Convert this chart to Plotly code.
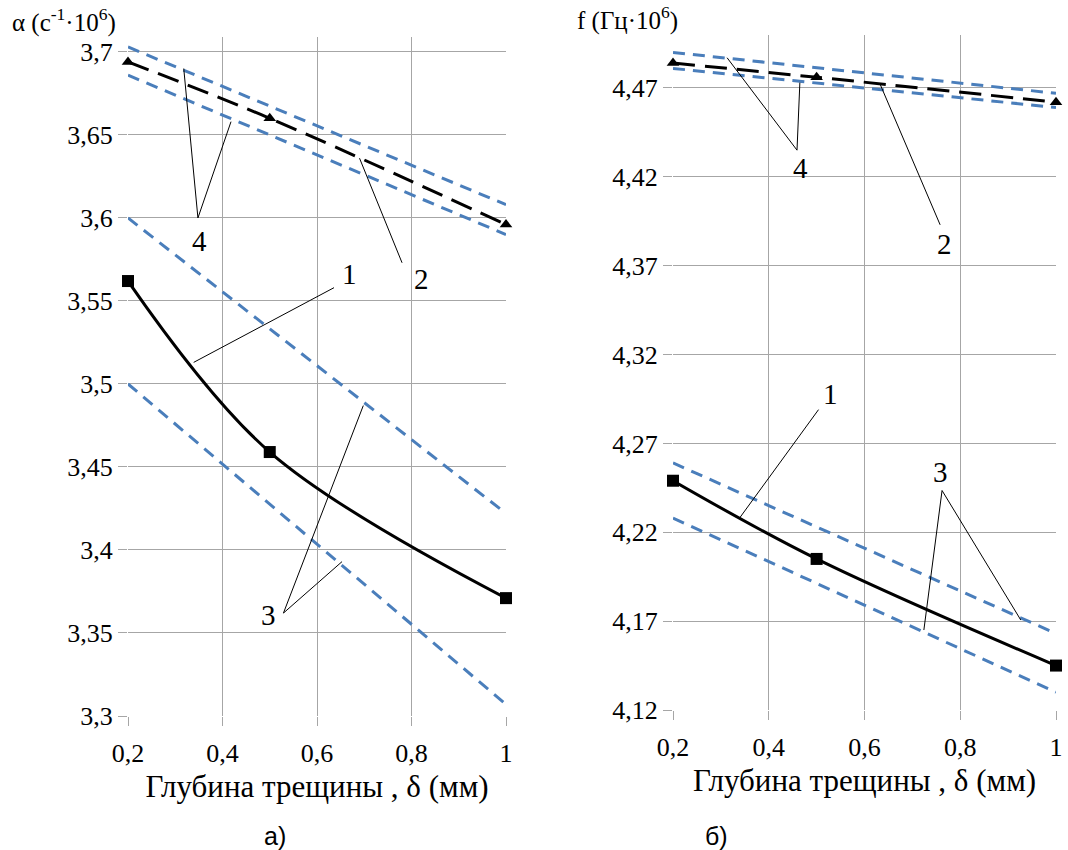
import plotly.graph_objects as go

# ---------------- data ----------------
x_pts = [0.2, 0.5, 1.0]
x_ends = [0.2, 1.0]

# panel a) alpha
alpha_1 = [3.562, 3.459, 3.371]
alpha_2 = [3.694, 3.660, 3.596]
alpha_3_up = [3.600, 3.422]
alpha_3_lo = [3.500, 3.307]
alpha_4_up = [3.703, 3.608]
alpha_4_lo = [3.686, 3.590]

# panel б) f
f_1 = [4.249, 4.205, 4.145]
f_2 = [4.484, 4.476, 4.462]
f_3_up = [4.259, 4.163]
f_3_lo = [4.228, 4.130]
f_4_up = [4.490, 4.467]
f_4_lo = [4.481, 4.459]

x_ticks = [0.2, 0.4, 0.6, 0.8, 1.0]
x_ticktext = ["0,2", "0,4", "0,6", "0,8", "1"]
a_ticks = [3.3, 3.35, 3.4, 3.45, 3.5, 3.55, 3.6, 3.65, 3.7]
a_ticktext = ["3,3", "3,35", "3,4", "3,45", "3,5", "3,55", "3,6", "3,65", "3,7"]
f_ticks = [4.12, 4.17, 4.22, 4.27, 4.32, 4.37, 4.42, 4.47]
f_ticktext = ["4,12", "4,17", "4,22", "4,27", "4,32", "4,37", "4,42", "4,47"]

# curve labels: (text, x, y) and leader lines ((x0,y0),(x1,y1))
a_labels = [("4", 0.352, 3.586), ("2", 0.822, 3.563), ("1", 0.668, 3.566), ("3", 0.497, 3.361)]
a_leaders = [((0.348, 3.600), (0.318, 3.690)),
             ((0.348, 3.600), (0.418, 3.658)),
             ((0.780, 3.573), (0.690, 3.636)),
             ((0.636, 3.558), (0.339, 3.513)),
             ((0.529, 3.362), (0.698, 3.487)),
             ((0.529, 3.362), (0.653, 3.393))]
f_labels = [("4", 0.466, 4.425), ("2", 0.768, 4.382), ("1", 0.528, 4.298), ("3", 0.758, 4.254)]
f_leaders = [((0.459, 4.435), (0.313, 4.487)),
             ((0.459, 4.435), (0.465, 4.473)),
             ((0.758, 4.393), (0.632, 4.4725)),
             ((0.504, 4.289), (0.339, 4.228)),
             ((0.762, 4.2435), (0.724, 4.165)),
             ((0.762, 4.2435), (0.9265, 4.1706))]

BLUE = "#4a7ebb"
SERIF = "Liberation Serif"
SANS = "Liberation Sans"

fig = go.Figure()

def add_panel(xa, ya, c1, c2, c3u, c3l, c4u, c4l):
    for yy in (c3u, c3l, c4u, c4l):
        fig.add_trace(go.Scatter(x=x_ends, y=yy, mode="lines", xaxis=xa, yaxis=ya,
                                 line=dict(color=BLUE, width=3, dash="12px,8px"),
                                 showlegend=False, hoverinfo="skip"))
    fig.add_trace(go.Scatter(x=x_pts, y=c2, mode="lines+markers", xaxis=xa, yaxis=ya,
                             line=dict(color="black", width=3, dash="22px,10px", shape="spline"),
                             marker=dict(symbol="triangle-up", size=11, color="black"),
                             showlegend=False, cliponaxis=False))
    fig.add_trace(go.Scatter(x=x_pts, y=c1, mode="lines+markers", xaxis=xa, yaxis=ya,
                             line=dict(color="black", width=3, shape="spline"),
                             marker=dict(symbol="square", size=12, color="black"),
                             showlegend=False, cliponaxis=False))

add_panel("x", "y", alpha_1, alpha_2, alpha_3_up, alpha_3_lo, alpha_4_up, alpha_4_lo)
add_panel("x2", "y2", f_1, f_2, f_3_up, f_3_lo, f_4_up, f_4_lo)

shapes = []
annotations = []
for (xr, yr, labels, leaders) in (("x", "y", a_labels, a_leaders), ("x2", "y2", f_labels, f_leaders)):
    for (p0, p1) in leaders:
        shapes.append(dict(type="line", xref=xr, yref=yr, x0=p0[0], y0=p0[1], x1=p1[0], y1=p1[1],
                           line=dict(color="black", width=1)))
    for (t, xx, yy) in labels:
        annotations.append(dict(text=t, x=xx, y=yy, xref=xr, yref=yr, showarrow=False,
                                font=dict(family=SERIF, size=29, color="black")))

annotations += [
    dict(text="α (с<sup>-1</sup>·10<sup>6</sup>)", x=10 / 1068, y=1 - 20 / 850, xref="paper", yref="paper",
         xanchor="left", yanchor="middle", showarrow=False, font=dict(family=SERIF, size=25, color="black")),
    dict(text="f (Гц·10<sup>6</sup>)", x=575 / 1068, y=1 - 19 / 850, xref="paper", yref="paper",
         xanchor="left", yanchor="middle", showarrow=False, font=dict(family=SERIF, size=25, color="black")),
    dict(text="а)", x=262 / 1068, y=1 - 836 / 850, xref="paper", yref="paper", yanchor="middle",
         showarrow=False, font=dict(family=SANS, size=25, color="black")),
    dict(text="б)", x=730 / 1068, y=1 - 836 / 850, xref="paper", yref="paper", yanchor="middle",
         showarrow=False, font=dict(family=SANS, size=25, color="black")),
]

axis_common = dict(showgrid=True, gridcolor="#a6a6a6", gridwidth=1, showline=False,
                   zeroline=False, ticks="outside", ticklen=9, tickcolor="#a6a6a6",
                   automargin=False,
                   tickfont=dict(family=SERIF, size=26, color="black"))
xtitle = dict(text="Глубина трещины , δ (мм)", font=dict(family=SERIF, size=31, color="black"), standoff=8)

fig.update_layout(
    template="none",
    width=1068, height=850, margin=dict(l=0, r=0, t=0, b=0),
    paper_bgcolor="white", plot_bgcolor="white",
    font=dict(family=SERIF, color="black"),
    xaxis=dict(domain=[128 / 1068, 506 / 1068], range=[0.2, 1.0], tickvals=x_ticks, ticktext=x_ticktext,
               anchor="y", title=xtitle, ticklabelstandoff=5, **axis_common),
    yaxis=dict(domain=[1 - 716 / 850, 1 - 37 / 850], range=[3.3, 3.709], tickvals=a_ticks, ticktext=a_ticktext,
               anchor="x", **axis_common),
    xaxis2=dict(domain=[673 / 1068, 1056 / 1068], range=[0.2, 1.0], tickvals=x_ticks, ticktext=x_ticktext,
                anchor="y2", title=xtitle, ticklabelstandoff=5, **axis_common),
    yaxis2=dict(domain=[1 - 710 / 850, 1 - 35 / 850], range=[4.12, 4.4998], tickvals=f_ticks, ticktext=f_ticktext,
                anchor="x2", **axis_common),
    shapes=shapes, annotations=annotations,
)

fig.write_html("out.html", config={"displayModeBar": False},
               post_script="document.body.style.margin='0';document.body.style.padding='0';")
